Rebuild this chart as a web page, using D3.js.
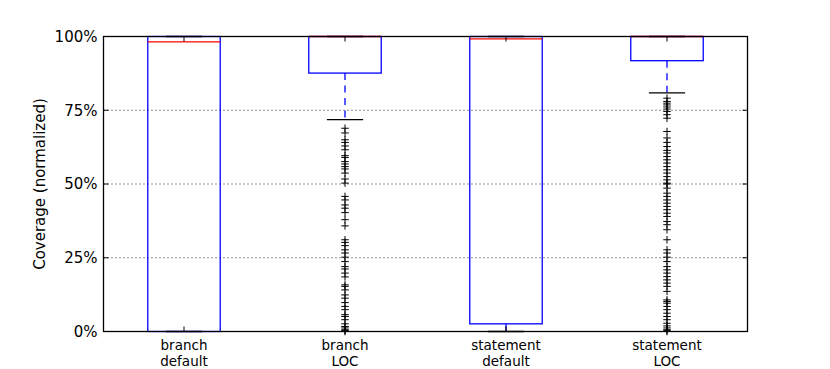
<!DOCTYPE html>
<html>
<head>
<meta charset="utf-8">
<script src="https://cdn.jsdelivr.net/npm/d3@7"></script>
<style>
  body { margin: 0; background: #fff; }
  svg text { font-family: "DejaVu Sans", sans-serif; fill: #000; }
</style>
</head>
<body>
<div id="chart"></div>
<script>
// box stats, in percent
const categories = [["branch", "default"], ["branch", "LOC"], ["statement", "default"], ["statement", "LOC"]];
const q1 = [0, 87.6, 2.6, 91.8];
const median = [98.2, 100, 99.2, 100];
const q3 = [100, 100, 100, 100];
const whiskerLo = [0, 71.8, 0, 80.9];
const whiskerHi = [100, 100, 100, 100];

const branchLocFliers = [68.9, 67.3, 65.0, 64.1, 62.9, 61.6, 59.6, 59.0, 57.6, 56.8, 55.9, 55.1,
    53.7, 51.7, 50.3, 45.8, 44.6, 42.9, 41.8, 40.3, 37.9, 35.8, 31.1, 30.2, 29.1, 27.7, 26.6,
    25.2, 23.7, 22.0, 21.2, 19.8, 18.5, 15.8, 15.3, 14.1, 12.4, 11.3, 9.8, 8.5, 7.4, 5.7, 5.1,
    4.0, 2.6, 1.7, 1.2, 0.6, 0.3, 0];
const statementLocFliers = [79.1, 78.0, 77.4, 76.8, 76.1, 75.4, 74.6, 73.5, 72.3, 67.8, 65.6,
    64.1, 62.7, 61.4, 60.5, 59.3, 58.2, 57.1, 55.9, 54.8, 53.7, 52.5, 51.4, 50.3, 50.0, 48.6,
    46.9, 45.8, 44.6, 43.5, 42.4, 41.3, 40.1, 39.0, 37.3, 36.2, 34.5, 31.1, 27.7, 26.6, 25.2,
    23.7, 22.0, 20.9, 19.8, 18.6, 17.5, 16.4, 15.3, 13.6, 10.7, 10.2, 9.6, 8.5, 7.4, 6.2, 5.1,
    4.0, 2.8, 1.9, 1.2, 0.6, 0.3, 0];
const fliers = [[], branchLocFliers, [], statementLocFliers];
const yTicks = [0, 25, 50, 75, 100];

const width = 830, height = 369;
const boxWidth = 0.45;
const lw = 1.3;

const svg = d3.select("#chart").append("svg")
    .attr("width", width)
    .attr("height", height);

const x = d3.scaleLinear().domain([0.5, 4.5]).range([103.5, 747.5]);
const y = d3.scaleLinear().domain([0, 100]).range([331.5, 36.5]);

// grid
svg.append("g")
    .selectAll("line")
    .data(yTicks.slice(1, -1))
    .join("line")
    .attr("x1", x(0.5)).attr("x2", x(4.5))
    .attr("y1", d => y(d)).attr("y2", d => y(d))
    .attr("stroke", "#222")
    .attr("stroke-width", 1)
    .attr("stroke-dasharray", "1,3");

const boxes = svg.append("g")
    .selectAll("g")
    .data(categories.map((c, i) => ({ pos: i + 1, i })))
    .join("g");

// whiskers
boxes.append("line")
    .attr("x1", d => x(d.pos)).attr("x2", d => x(d.pos))
    .attr("y1", d => y(q1[d.i])).attr("y2", d => y(whiskerLo[d.i]))
    .attr("stroke", "#0000ff").attr("stroke-width", lw)
    .attr("stroke-dasharray", "7,5.5");
boxes.append("line")
    .attr("x1", d => x(d.pos)).attr("x2", d => x(d.pos))
    .attr("y1", d => y(q3[d.i])).attr("y2", d => y(whiskerHi[d.i]))
    .attr("stroke", "#0000ff").attr("stroke-width", lw)
    .attr("stroke-dasharray", "7,5.5");

// caps
[whiskerLo, whiskerHi].forEach(w => {
    boxes.append("line")
        .attr("x1", d => x(d.pos - boxWidth / 4)).attr("x2", d => x(d.pos + boxWidth / 4))
        .attr("y1", d => y(w[d.i])).attr("y2", d => y(w[d.i]))
        .attr("stroke", "#000").attr("stroke-width", lw);
});

// box
boxes.append("rect")
    .attr("x", d => x(d.pos - boxWidth / 2))
    .attr("width", d => x(d.pos + boxWidth / 2) - x(d.pos - boxWidth / 2))
    .attr("y", d => y(q3[d.i]))
    .attr("height", d => y(q1[d.i]) - y(q3[d.i]))
    .attr("fill", "none")
    .attr("stroke", "#0000ff")
    .attr("stroke-width", lw);

// median
boxes.append("line")
    .attr("x1", d => x(d.pos - boxWidth / 2))
    .attr("x2", d => x(d.pos + boxWidth / 2))
    .attr("y1", d => y(median[d.i])).attr("y2", d => y(median[d.i]))
    .attr("stroke", "#ff0000")
    .attr("stroke-width", lw);

// fliers
boxes.each(function (d) {
    d3.select(this).selectAll("path.flier")
        .data(fliers[d.i])
        .join("path")
        .attr("class", "flier")
        .attr("transform", v => `translate(${x(d.pos)},${y(v)})`)
        .attr("d", "M-3.75,0H3.75M0,-3.75V3.75")
        .attr("stroke", "#000")
        .attr("stroke-width", 1)
        .attr("fill", "none");
});

// frame
svg.append("rect")
    .attr("x", x(0.5)).attr("y", y(100))
    .attr("width", x(4.5) - x(0.5)).attr("height", y(0) - y(100))
    .attr("fill", "none").attr("stroke", "#000").attr("stroke-width", lw);

// y ticks (inward, both sides) and labels
const yAxis = svg.append("g");
yTicks.forEach(t => {
    yAxis.append("line").attr("x1", x(0.5)).attr("x2", x(0.5) + 5)
        .attr("y1", y(t)).attr("y2", y(t)).attr("stroke", "#000");
    yAxis.append("line").attr("x1", x(4.5)).attr("x2", x(4.5) - 5)
        .attr("y1", y(t)).attr("y2", y(t)).attr("stroke", "#000");
    yAxis.append("text")
        .attr("x", x(0.5) - 6).attr("y", y(t))
        .attr("dy", "0.36em")
        .attr("text-anchor", "end")
        .attr("font-size", 15)
        .text(t + "%");
});

// x ticks and labels
const xAxis = svg.append("g");
categories.forEach((c, i) => {
    const px = x(i + 1);
    xAxis.append("line").attr("x1", px).attr("x2", px)
        .attr("y1", y(0)).attr("y2", y(0) - 5).attr("stroke", "#000");
    xAxis.append("line").attr("x1", px).attr("x2", px)
        .attr("y1", y(100)).attr("y2", y(100) + 5).attr("stroke", "#000");
    const label = xAxis.append("text")
        .attr("text-anchor", "middle")
        .attr("font-size", 13.5);
    c.forEach((line, k) => {
        label.append("tspan").attr("x", px).attr("y", 349.5 + k * 16.5).text(line);
    });
});

// y label
svg.append("text")
    .attr("transform", `translate(45,${(y(0) + y(100)) / 2}) rotate(-90)`)
    .attr("text-anchor", "middle")
    .attr("font-size", 15)
    .text("Coverage (normalized)");
</script>
</body>
</html>
